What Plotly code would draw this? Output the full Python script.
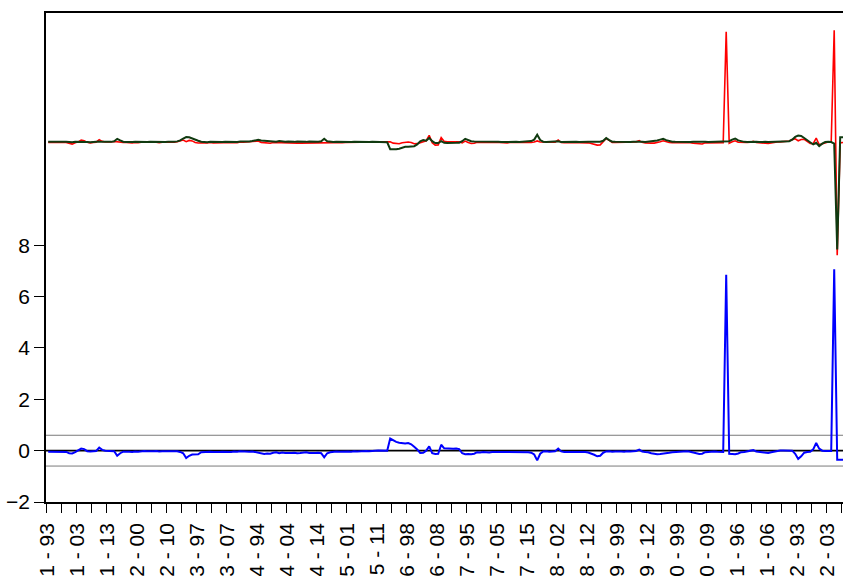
import plotly.graph_objects as go

# ---- panel observation labels (cross-section - year) ----
cross_sections = list(range(1, 13))
years = list(range(1993, 2016))
missing = {9: [2000, 2001, 2002]}
obs_labels = []
for cs in cross_sections:
    for yr in years:
        if yr in missing.get(cs, []):
            continue
        obs_labels.append(f"{cs} - {yr % 100:02d}")

# ---- residual (left axis) ----
residual = [
    -0.04, -0.04, -0.05, -0.04, -0.03, -0.04, -0.05, -0.10, -0.11, -0.06,
    0.00, 0.08, 0.06, -0.02, -0.03, -0.03, -0.01, 0.12, 0.03, 0.00,
    0.00, -0.01, -0.02, -0.20, -0.10, -0.04, -0.03, -0.04, -0.05, -0.03,
    -0.04, -0.02, -0.01, -0.02, -0.03, -0.02, -0.01, -0.03, -0.02, -0.02,
    -0.01, -0.02, -0.03, -0.02, -0.05, -0.10, -0.29, -0.20, -0.15, -0.15,
    -0.14, -0.06, -0.05, -0.05, -0.04, -0.05, -0.06, -0.05, -0.04, -0.05,
    -0.04, -0.05, -0.03, -0.04, -0.02, -0.03, -0.05, -0.04, -0.03, -0.06,
    -0.08, -0.12, -0.13, -0.11, -0.12, -0.08, -0.06, -0.10, -0.07, -0.09,
    -0.10, -0.09, -0.08, -0.10, -0.09, -0.07, -0.06, -0.09, -0.10, -0.09,
    -0.08, -0.10, -0.26, -0.10, -0.06, -0.04, -0.03, -0.04, -0.03, -0.02,
    -0.03, -0.04, -0.02, -0.03, -0.02, -0.03, -0.01, -0.02, -0.02, 0.00,
    0.01, 0.00, -0.01, 0.00, 0.47, 0.40, 0.34, 0.31, 0.30, 0.28,
    0.30, 0.25, 0.15, 0.05, -0.09, -0.08, 0.00, 0.17, -0.10, -0.13,
    -0.12, 0.23, 0.09, 0.08, 0.08, 0.07, 0.08, 0.06, -0.10, -0.14,
    -0.13, -0.14, -0.12, -0.06, -0.07, -0.05, -0.06, -0.07, -0.05, -0.05,
    -0.04, -0.05, -0.06, -0.05, -0.04, -0.05, -0.06, -0.05, -0.04, -0.05,
    -0.06, -0.08, -0.15, -0.38, -0.12, -0.03, -0.02, -0.04, -0.03, -0.02,
    0.08, -0.03, -0.05, -0.05, -0.04, -0.06, -0.05, -0.04, -0.06, -0.05,
    -0.07, -0.10, -0.16, -0.22, -0.20, -0.08, -0.03, -0.02, -0.04, -0.03,
    -0.02, -0.03, -0.04, -0.02, -0.03, -0.03, -0.01, 0.04, -0.03, -0.05,
    -0.06, -0.10, -0.13, -0.14, -0.13, -0.12, -0.10, -0.08, -0.06, -0.05,
    -0.03, -0.04, -0.03, -0.02, -0.04, -0.08, -0.12, -0.13, -0.12, -0.06,
    -0.05, -0.03, -0.03, -0.04, -0.05, -0.05, 6.85, -0.12, -0.13, -0.14,
    -0.11, -0.06, -0.05, -0.03, -0.02, 0.02, -0.03, -0.05, -0.06, -0.09,
    -0.09, -0.06, -0.03, -0.01, 0.01, 0.01, 0.00, 0.01, 0.00, -0.12,
    -0.32, -0.22, -0.08, -0.05, -0.04, 0.05, 0.30, 0.08, 0.00, -0.01,
    0.00, -0.01, 7.07, -0.35, -0.35, -0.34, -0.35,
]

# ---- fitted (right axis) ----
fitted = [
    12.02, 12.01, 12.03, 12.02, 12.00, 12.01, 12.02, 12.00, 11.98, 12.01,
    12.01, 12.04, 12.02, 12.00, 11.98, 12.01, 12.00, 12.03, 12.01, 12.00,
    11.99, 12.01, 12.05, 12.20, 12.10, 12.02, 12.00, 11.98, 12.00, 12.01,
    12.00, 12.01, 11.99, 12.00, 12.02, 12.01, 12.00, 11.99, 12.01, 12.00,
    12.01, 12.00, 12.02, 12.04, 12.10, 12.22, 12.31, 12.30, 12.22, 12.12,
    12.08, 12.02, 12.00, 11.99, 12.01, 12.00, 12.02, 12.01, 12.00, 12.01,
    12.00, 12.02, 12.01, 12.00, 12.03, 12.02, 12.05, 12.04, 12.06, 12.08,
    12.14, 12.10, 12.08, 12.06, 12.04, 12.05, 12.02, 12.06, 12.03, 12.02,
    12.04, 12.02, 12.01, 12.03, 12.02, 12.00, 12.01, 12.03, 12.02, 12.01,
    12.02, 12.05, 12.20, 12.05, 12.01, 12.00, 12.01, 12.00, 11.99, 12.00,
    12.01, 12.00, 12.01, 12.00, 12.01, 12.00, 11.99, 12.00, 12.01, 12.00,
    12.00, 12.01, 12.00, 11.98, 11.55, 11.53, 11.55, 11.58, 11.65, 11.70,
    11.70, 11.72, 11.74, 11.85, 12.05, 12.12, 12.08, 12.25, 12.05, 11.94,
    11.94, 12.05, 11.95, 11.94, 11.93, 11.94, 11.95, 11.96, 12.05, 12.20,
    12.10, 12.05, 12.04, 12.04, 12.06, 12.03, 12.05, 12.04, 12.03, 12.04,
    12.02, 12.00, 12.01, 12.00, 12.01, 12.02, 12.01, 12.00, 12.01, 12.02,
    12.03, 12.06, 12.15, 12.45, 12.12, 12.02, 12.00, 12.01, 12.00, 12.01,
    12.05, 12.00, 12.01, 12.00, 12.02, 12.03, 12.01, 12.00, 12.02, 12.01,
    12.02, 12.01, 12.02, 12.03, 12.02, 12.08, 12.25, 12.12, 12.02, 12.01,
    12.00, 12.01, 12.02, 12.01, 12.00, 12.01, 12.02, 12.04, 12.01, 12.00,
    12.02, 12.03, 12.06, 12.10, 12.15, 12.20, 12.12, 12.05, 12.02, 12.01,
    12.00, 12.01, 12.02, 12.01, 12.00, 12.01, 12.02, 12.01, 12.00, 12.01,
    12.00, 12.01, 12.02, 12.01, 12.00, 12.01, 12.02, 12.05, 12.15, 12.22,
    12.10, 12.03, 12.01, 12.00, 12.01, 12.03, 12.01, 12.00, 12.02, 12.01,
    12.00, 12.01, 12.02, 12.01, 12.00, 12.01, 12.02, 12.05, 12.15, 12.32,
    12.40, 12.38, 12.25, 12.10, 11.95, 11.85, 11.95, 11.75, 11.90, 12.00,
    12.01, 12.00, 11.90, 5.30, 12.30, 12.31, 12.30,
]

# actual = fitted + residual (definition of the residual)
actual = [round(f + r, 3) for f, r in zip(fitted, residual)]

se_band = 0.60
x = list(range(len(residual)))

tick_idx = list(range(0, 270, 5))
tickvals = [k - 0.5 for k in tick_idx]
ticktext = [obs_labels[k] if k % 10 == 0 else "" for k in tick_idx]

FONT = "Arial, Liberation Sans, sans-serif"

fig = go.Figure()
fig.add_trace(go.Scatter(x=x, y=residual, mode="lines", name="Residual",
                         line=dict(color="#0000FF", width=2), yaxis="y"))
fig.add_trace(go.Scatter(x=x, y=actual, mode="lines", name="Actual",
                         line=dict(color="#FF0000", width=1.6), yaxis="y2"))
fig.add_trace(go.Scatter(x=x, y=fitted, mode="lines", name="Fitted",
                         line=dict(color="#103A10", width=2), yaxis="y2"))

# zero line and +/- 1 S.E. band lines
fig.add_shape(type="line", xref="paper", x0=0, x1=1, yref="y", y0=0, y1=0,
              line=dict(color="black", width=1.6), layer="below")
for s in (se_band, -se_band):
    fig.add_shape(type="line", xref="paper", x0=0, x1=1, yref="y", y0=s, y1=s,
                  line=dict(color="#7a7a7a", width=1), layer="below")

x0 = -0.5 - 0.7 / 3
fig.update_layout(
    width=843, height=576,
    margin=dict(l=46, r=0, t=13, b=74, pad=0),
    paper_bgcolor="white", plot_bgcolor="white",
    showlegend=False,
    font=dict(family=FONT, size=21, color="black"),
    xaxis=dict(
        range=[x0, x0 + 797 / 3], automargin=False,
        tickmode="array", tickvals=tickvals, ticktext=ticktext,
        tickangle=-90, ticks="outside", ticklen=9, tickwidth=1, tickcolor="black",
        ticklabelstandoff=2,
        showline=True, linecolor="black", linewidth=1.5, mirror=True,
        showgrid=False, zeroline=False,
        tickfont=dict(family=FONT, size=21, color="black"),
    ),
    yaxis=dict(
        range=[-2, 17.05], automargin=False,
        tickmode="array", tickvals=[-2, 0, 2, 4, 6, 8],
        ticks="outside", ticklen=10, tickwidth=1, tickcolor="black",
        showline=True, linecolor="black", linewidth=1.5, mirror=False,
        showgrid=False, zeroline=False,
        tickfont=dict(family=FONT, size=21, color="black"),
    ),
    yaxis2=dict(
        range=[-10.43, 20.04], overlaying="y", side="right", automargin=False,
        showticklabels=False, showgrid=False, zeroline=False, showline=False,
        ticks="",
    ),
)

fig.write_html(
    "out.html",
    config={"displayModeBar": False},
    post_script="document.body.style.margin='0';document.body.style.overflow='hidden';",
)
